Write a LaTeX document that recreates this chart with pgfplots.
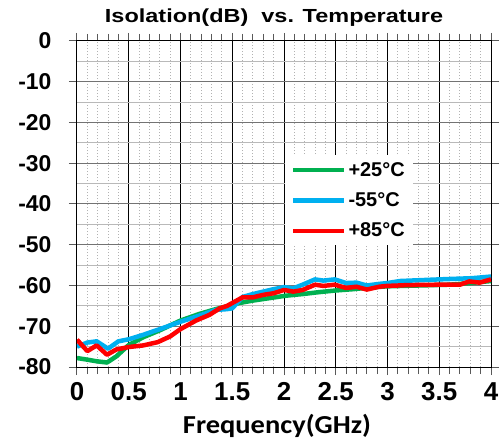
\documentclass[border=0pt]{standalone}
\usepackage{fontspec}
\setmainfont{Liberation Sans}
\newfontfamily\titlefont[FakeStretch=1.24]{Liberation Sans}
\newfontfamily\carlito[FakeStretch=1.1]{Carlito}
\usepackage{pgfplots}
\pgfplotsset{compat=1.18}

\definecolor{cgreen}{HTML}{00B050}
\definecolor{cblue}{HTML}{00B0F0}
\definecolor{cred}{HTML}{FF0000}

\begin{document}
\begin{tikzpicture}
\begin{axis}[
  at={(0,0)}, anchor=south west,
  scale only axis,
  width=414bp, height=326bp,
  xmin=0, xmax=4, ymin=-80, ymax=0,
  xtick={0,0.5,...,4},
  xticklabels={0,0.5,1,1.5,2,2.5,3,3.5,4},
  ytick={-80,-70,...,0},
  yticklabels={-80,-70,-60,-50,-40,-30,-20,-10,0},
  minor x tick num=4,
  minor y tick num=1,
  grid=both,
  major x grid style={black, line width=1bp},
  minor x grid style={gray!60, line width=1bp, dash pattern=on 1.5bp off 1.5bp},
  major y grid style={gray!90!black, line width=1bp},
  minor y grid style={gray!55, line width=1bp},
  axis line style={black, line width=1bp},
  tick align=outside,
  major tick length=8bp,
  minor tick length=7bp,
  tick style={gray!70!black, line width=1bp},
  minor y tick style={draw=none},
  xticklabel style={font=\bfseries\fontsize{26}{26}\selectfont, yshift=-4bp},
  yticklabel style={font=\bfseries\fontsize{23}{23}\selectfont, xshift=-14bp},
  title={Isolation(dB)\ \ vs. Temperature},
  title style={font=\titlefont\bfseries\fontsize{19}{19}\selectfont, at={(axis description cs:0.476,1)}, anchor=base, yshift=13bp},
  xlabel={Frequency(GHz)},
  xlabel style={font=\carlito\bfseries\fontsize{26}{26}\selectfont, at={(axis description cs:0.483,0)}, anchor=base, yshift=-66.5bp},
  legend cell align=left,
  legend style={at={(axis description cs:0.502,0.650)}, anchor=north west,
    draw=none, fill=white, font=\bfseries\fontsize{20}{20}\selectfont,
    row sep=11bp, inner xsep=6bp, inner ysep=5bp},
  legend image code/.code={\draw[#1, line width=4.5bp] (0bp,0bp) -- (51bp,0bp);},
  every axis plot/.append style={line width=4.5bp, line join=round},
]
\addplot[cgreen] coordinates {
  (0,-77.8) (0.1,-78.2) (0.19,-78.6) (0.29,-78.9) (0.38,-77.4) (0.5,-74.6)
  (0.64,-72.7) (0.8,-71.0) (1.0,-68.6) (1.18,-67.0) (1.34,-65.8) (1.45,-65.1)
  (1.57,-64.3) (1.7,-63.7) (1.86,-63.1) (2.02,-62.5) (2.18,-62.1) (2.35,-61.6)
  (2.51,-61.2) (2.67,-60.9) (2.83,-60.5) (3.0,-60.2) (3.3,-60.0) (3.6,-59.8)
  (3.8,-59.4) (4.0,-58.9)
};
\addlegendentry{+25°C}
\addplot[cblue] coordinates {
  (0,-75.0) (0.1,-74.0) (0.19,-73.7) (0.3,-75.5) (0.4,-73.7) (0.5,-73.2)
  (0.64,-72.1) (0.8,-70.7) (1.0,-68.9) (1.18,-67.4) (1.34,-66.0) (1.45,-65.8)
  (1.5,-65.6) (1.6,-62.8) (1.7,-62.1) (1.8,-61.5) (1.9,-60.9) (2.0,-60.4)
  (2.09,-60.7) (2.18,-59.8) (2.3,-58.5) (2.38,-58.8) (2.49,-58.5) (2.6,-59.4)
  (2.7,-59.3) (2.8,-60.0) (2.92,-59.6) (3.0,-59.4) (3.12,-58.9) (3.5,-58.5)
  (3.82,-58.2) (4.0,-57.8)
};
\addlegendentry{-55°C}
\addplot[cred] coordinates {
  (0,-73.3) (0.1,-76.1) (0.19,-74.7) (0.29,-77.0) (0.38,-75.7) (0.5,-75.1)
  (0.64,-74.7) (0.78,-73.9) (0.9,-72.5) (1.0,-70.7) (1.15,-68.6) (1.28,-67.2)
  (1.38,-65.6) (1.45,-65.0) (1.5,-64.3) (1.6,-62.9) (1.7,-62.9) (1.8,-62.3)
  (1.9,-61.9) (2.0,-61.1) (2.09,-61.5) (2.18,-61.1) (2.3,-59.8) (2.38,-60.1)
  (2.49,-59.8) (2.6,-60.6) (2.7,-60.3) (2.8,-61.0) (2.92,-60.3) (3.0,-60.1)
  (3.2,-59.9) (3.5,-59.8) (3.7,-59.8) (3.79,-59.0) (3.89,-59.3) (4.0,-58.5)
};
\addlegendentry{+85°C}
\end{axis}
\pgfresetboundingbox
\useasboundingbox (-77bp,-72bp) rectangle (425bp,367bp);
\end{tikzpicture}
\end{document}
